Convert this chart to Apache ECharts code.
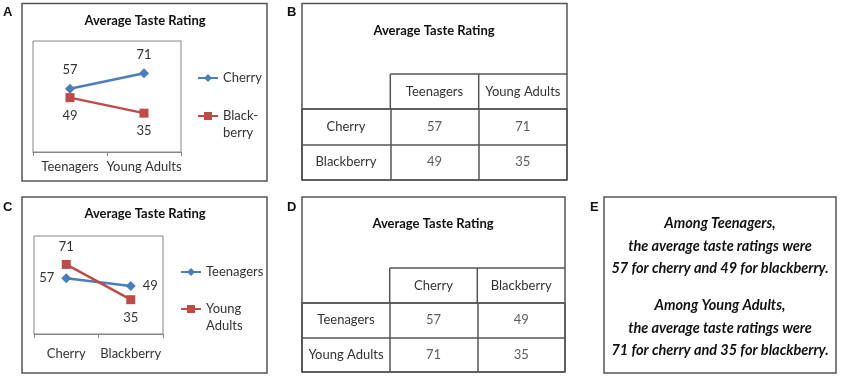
<!DOCTYPE html>
<html>
<head>
<meta charset="utf-8">
<script src="https://cdn.jsdelivr.net/npm/echarts@6/dist/echarts.min.js"></script>
<style>
  html, body { margin: 0; padding: 0; background: #fff; }
  #main { width: 843px; height: 378px; }
</style>
</head>
<body>
<div id="main"></div>
<script>
// data
const groups = ['Teenagers', 'Young Adults']
const flavors = ['Cherry', 'Blackberry']
const cherry = [57, 71]      // by group
const blackberry = [49, 35]  // by group
const chartTitle = 'Average Taste Rating'

const chart = echarts.init(document.getElementById('main'))

const FONT = 'Lato, "Noto Sans", sans-serif'
const TXT = '#333'
const BORDER = '#555'
const BLUE = '#4a7ebb'
const RED = '#be4b48'

// transposed for panel C
const teens = [cherry[0], blackberry[0]]
const adults = [cherry[1], blackberry[1]]

const lineAxisX = (gridIndex, data, margin) => ({
  type: 'category', gridIndex, data,
  axisLine: { lineStyle: { color: '#868686', width: 1 } },
  axisTick: { show: true, length: 4, lineStyle: { color: '#868686' } },
  axisLabel: { interval: 0, hideOverlap: false, margin, fontFamily: FONT, fontSize: 13, color: TXT },
  splitLine: { show: false }
})
const hiddenY = gridIndex => ({ type: 'value', gridIndex, min: 0, max: 100, show: false })

const tableLine = { color: BORDER, width: 1.5 }
const tableX = (gridIndex, data) => ({
  type: 'category', gridIndex, data: [''].concat(data), position: 'top',
  axisLine: { show: true, lineStyle: tableLine },
  axisTick: { show: false },
  axisLabel: { interval: 0, hideOverlap: false, margin: 17, verticalAlign: 'middle', fontFamily: FONT, fontSize: 13, color: TXT },
  splitLine: { show: true, interval: 0, lineStyle: tableLine }
})
const tableY = (gridIndex, data) => ({
  type: 'category', gridIndex, data, inverse: true,
  axisLine: { show: true, lineStyle: tableLine },
  axisTick: { show: false },
  axisLabel: { interval: 0, hideOverlap: false, inside: true, margin: 44, align: 'center', fontFamily: FONT, fontSize: 13, color: TXT },
  splitLine: { show: true, interval: 0, lineStyle: tableLine }
})
const tableSeries = (idx, cols, rows, vals) => ({
  type: 'scatter', xAxisIndex: idx, yAxisIndex: idx,
  symbol: 'circle', symbolSize: 1,
  itemStyle: { color: 'transparent' },
  label: { show: true, position: 'inside', formatter: p => p.value[2], fontFamily: FONT, fontSize: 13, color: TXT },
  data: rows.flatMap((r, i) => cols.map((c, j) => [c, r, vals[i][j]]))
})

const lineSeries = (name, idx, data, color, symbol, labelPos) => ({
  name, type: 'line', xAxisIndex: idx, yAxisIndex: idx,
  data: data.map((v, i) => ({ value: v, label: { position: labelPos[i] } })),
  symbol, symbolSize: symbol === 'diamond' ? 10 : 9,
  lineStyle: { color, width: 2.5 },
  itemStyle: { color },
  label: { show: true, distance: 7, fontFamily: FONT, fontSize: 13, color: TXT }
})

// wrapped legend names; the leading empty line keeps the first line level with the marker
const wrapped = { Blackberry: '\nBlack-\nberry', 'Young Adults': '\nYoung\nAdults' }
const legendAt = (name, left, top) => ({
  data: [name],
  left, top, padding: 0, orient: 'vertical',
  itemWidth: 20, itemHeight: 10,
  formatter: n => wrapped[n] || n,
  textStyle: { fontFamily: FONT, fontSize: 13, color: TXT, lineHeight: 17 }
})

const titleAt = (text, x, y, style) => ({
  text, left: x, top: y, padding: 0, textAlign: 'center', textVerticalAlign: 'middle',
  textStyle: Object.assign({ fontFamily: FONT, fontSize: 13, fontWeight: 'bold', color: '#111' }, style || {})
})
const letter = (text, x, y) => ({
  text, left: x, top: y, padding: 0, textAlign: 'left', textVerticalAlign: 'middle',
  textStyle: { fontFamily: '"Liberation Sans", Arial, sans-serif', fontSize: 13, fontWeight: 'bold', color: '#111' }
})

const sentence = i => 'Among ' + groups[i] + ',\nthe average taste ratings were\n' +
  cherry[i] + ' for cherry and ' + blackberry[i] + ' for blackberry.'
const eStyle = { fontStyle: 'italic', fontSize: 14.5, lineHeight: 22.5, color: '#111' }

const box = (x1, y1, x2, y2) => ({
  type: 'rect', shape: { x: x1, y: y1, width: x2 - x1, height: y2 - y1 },
  style: { fill: 'none', stroke: BORDER, lineWidth: 1.5 }, z: 10
})
const seg = (x1, y1, x2, y2) => ({
  type: 'line', shape: { x1, y1, x2, y2 }, style: { stroke: BORDER, lineWidth: 1.5 }, z: 10
})

const option = {
  animation: false,
  title: [
    letter('A', 3, 12), letter('B', 287, 12), letter('C', 3, 207), letter('D', 287, 207), letter('E', 590, 207),
    titleAt(chartTitle, 145, 21), titleAt(chartTitle, 434, 31),
    titleAt(chartTitle, 145, 214), titleAt(chartTitle, 433, 224),
    titleAt(sentence(0), 720, 246, eStyle), titleAt(sentence(1), 720, 328, eStyle)
  ],
  legend: [
    legendAt('Cherry', 197, 69.5), legendAt('Blackberry', 197, 90.5),
    legendAt('Teenagers', 180, 263.5), legendAt('Young Adults', 180, 283.5)
  ],
  grid: [
    { left: 33, top: 41, width: 148, height: 111, show: true, borderColor: '#868686', borderWidth: 1 },
    { left: 34, top: 236, width: 129, height: 98, show: true, borderColor: '#868686', borderWidth: 1 },
    { left: 302, top: 109, width: 265, height: 71 },
    { left: 302, top: 303, width: 263, height: 69 }
  ],
  xAxis: [
    lineAxisX(0, groups, 8), lineAxisX(1, flavors, 13),
    tableX(2, groups), tableX(3, flavors)
  ],
  yAxis: [
    hiddenY(0), hiddenY(1),
    tableY(2, flavors), tableY(3, groups)
  ],
  series: [
    lineSeries('Cherry', 0, cherry, BLUE, 'diamond', ['top', 'top']),
    lineSeries('Blackberry', 0, blackberry, RED, 'rect', ['bottom', 'bottom']),
    lineSeries('Teenagers', 1, teens, BLUE, 'diamond', ['left', 'right']),
    lineSeries('Young Adults', 1, adults, RED, 'rect', ['top', 'bottom']),
    tableSeries(2, groups, flavors, [cherry, blackberry]),
    tableSeries(3, flavors, groups, [teens, adults])
  ],
  graphic: [
    box(22, 3.5, 267, 181), box(302, 3.5, 567, 180),
    box(22, 197, 267, 373), box(302, 197, 565, 372), box(604, 197, 836, 373),
    // header row lines of the tables
    seg(390.3, 74, 567, 74), seg(390.3, 74, 390.3, 109), seg(478.7, 74, 478.7, 109),
    seg(389.7, 268, 565, 268), seg(389.7, 268, 389.7, 303), seg(477.3, 268, 477.3, 303)
  ]
}

chart.setOption(option)
</script>
</body>
</html>
